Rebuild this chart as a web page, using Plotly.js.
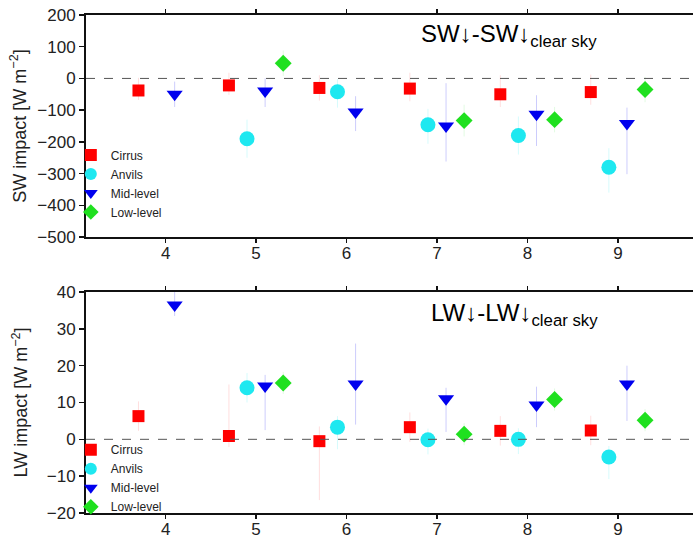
<!DOCTYPE html>
<html>
<head>
<meta charset="utf-8">
<script src="https://cdn.plot.ly/plotly-3.0.1.min.js"></script>
<style>html,body{margin:0;padding:0;background:#fff;}#chart{width:693px;height:538px;}</style>
</head>
<body>
<div id="chart"></div>
<script>
// Category names
const categories = ["Cirrus", "Anvils", "Mid-level", "Low-level"];
// x positions for each category
const xCirrus = [3.7, 4.7, 5.7, 6.7, 7.7, 8.7];
const xAnvils = [4.9, 5.9, 6.9, 7.9, 8.9];
const xMid = [4.1, 5.1, 6.1, 7.1, 8.1, 9.1];
const xLow = [5.3, 7.3, 8.3, 9.3];

// SW impact values
const swCirrus = [-38, -22, -30, -32, -50, -43];
const swAnvils = [-190, -42, -146, -180, -280];
const swMid = [-50, -40, -106, -150, -113, -142];
const swLow = [48, -133, -130, -35];
// SW error bars (plus / minus)
const swCirrusUp = [40, 40, 40, 50, 60, 55];
const swCirrusDn = [30, 30, 40, 40, 40, 40];
const swAnvilsUp = [60, 40, 50, 60, 60];
const swAnvilsDn = [60, 50, 60, 60, 80];
const swMidUp = [40, 40, 50, 135, 60, 50];
const swMidDn = [40, 50, 60, 112, 100, 160];
const swLowUp = [40, 50, 40, 40];
const swLowDn = [40, 50, 40, 40];

// LW impact values
const lwCirrus = [6.3, 0.9, -0.5, 3.3, 2.3, 2.4];
const lwAnvils = [14.0, 3.3, -0.1, 0.0, -4.8];
const lwMid = [36.5, 14.5, 15.0, 11.0, 9.3, 15.0];
const lwLow = [15.3, 1.4, 10.8, 5.2];
// LW error bars (plus / minus)
const lwCirrusUp = [4, 14, 4, 4, 4, 4];
const lwCirrusDn = [4, 3, 16, 4, 4, 4];
const lwAnvilsUp = [4, 3, 3, 3, 3];
const lwAnvilsDn = [4, 6, 4, 4, 6];
const lwMidUp = [6, 3, 11, 3, 5, 5];
const lwMidDn = [3, 12, 11, 9, 6, 10];
const lwLowUp = [3, 3, 3, 3];
const lwLowDn = [3, 3, 3, 3];

// Tick labels
const xTicks = [4, 5, 6, 7, 8, 9];
const swTicks = [200, 100, 0, -100, -200, -300, -400, -500];
const lwTicks = [40, 30, 20, 10, 0, -10, -20];

const colors = ["#ff0000", "#1ee8f0", "#0000ee", "#1fe01f"];
const errColors = ["rgba(255,0,0,0.13)", "rgba(30,232,240,0.18)", "rgba(0,0,238,0.2)", "rgba(31,224,31,0.13)"];
const symbols = ["square", "circle", "triangle-down", "diamond"];
const sizes = [12, 15, 14, 13];

function mk(i, xs, ys, up, dn, xa, ya, leg) {
  return {
    type: "scatter", mode: "markers", name: categories[i],
    x: xs, y: ys, xaxis: xa, yaxis: ya, legend: leg,
    marker: {symbol: symbols[i], size: sizes[i], color: colors[i], line: {width: 0}},
    error_y: {type: "data", symmetric: false, array: up, arrayminus: dn,
              color: errColors[i], thickness: 1, width: 0},
    cliponaxis: true
  };
}

const data = [
  mk(0, xCirrus, swCirrus, swCirrusUp, swCirrusDn, "x", "y", "legend"),
  mk(1, xAnvils, swAnvils, swAnvilsUp, swAnvilsDn, "x", "y", "legend"),
  mk(2, xMid, swMid, swMidUp, swMidDn, "x", "y", "legend"),
  mk(3, xLow, swLow, swLowUp, swLowDn, "x", "y", "legend"),
  mk(0, xCirrus, lwCirrus, lwCirrusUp, lwCirrusDn, "x2", "y2", "legend2"),
  mk(1, xAnvils, lwAnvils, lwAnvilsUp, lwAnvilsDn, "x2", "y2", "legend2"),
  mk(2, xMid, lwMid, lwMidUp, lwMidDn, "x2", "y2", "legend2"),
  mk(3, xLow, lwLow, lwLowUp, lwLowDn, "x2", "y2", "legend2")
];

const FAM = "Liberation Sans, Arial, sans-serif";
const font = {family: FAM, size: 17, color: "#222"};
const xCommon = {
  range: [3.12, 9.83], tickvals: xTicks, ticktext: xTicks.map(String),
  showline: true, linewidth: 2, linecolor: "#111", mirror: "ticks",
  ticks: "outside", ticklen: 4, tickwidth: 1.5, tickcolor: "#111",
  showgrid: false, zeroline: false, tickfont: font, ticklabelstandoff: -4
};
const yCommon = {
  showline: true, linewidth: 2, linecolor: "#111", mirror: false,
  ticks: "outside", ticklen: 5, tickwidth: 1.5, tickcolor: "#111",
  showgrid: false, zeroline: false, tickfont: font
};
const legCommon = {
  bgcolor: "rgba(0,0,0,0)", font: {family: FAM, size: 12, color: "#222"},
  itemsizing: "constant", tracegroupgap: 0, itemwidth: 30, xanchor: "left", yanchor: "top"
};

const layout = {
  width: 693, height: 538,
  margin: {l: 86, r: 0, t: 15, b: 25},
  paper_bgcolor: "#fff", plot_bgcolor: "#fff",
  showlegend: true,
  xaxis: Object.assign({}, xCommon, {domain: [0, 1], anchor: "y"}),
  yaxis: Object.assign({}, yCommon, {domain: [0.5542, 1], anchor: "x", range: [-500, 200],
    tickvals: swTicks, ticktext: swTicks.map(v => String(v).replace("-", "\u2212")),
    title: {text: "SW impact [W m<sup>\u22122</sup>]", font: {family: FAM, size: 18, color: "#222"}, standoff: 6}}),
  xaxis2: Object.assign({}, xCommon, {domain: [0, 1], anchor: "y2"}),
  yaxis2: Object.assign({}, yCommon, {domain: [0, 0.4438], anchor: "x2", range: [-20, 40],
    tickvals: lwTicks, ticktext: lwTicks.map(v => String(v).replace("-", "\u2212")),
    title: {text: "LW impact [W m<sup>\u22122</sup>]", font: {family: FAM, size: 18, color: "#222"}, standoff: 14}}),
  legend: Object.assign({}, legCommon, {x: -0.025, y: 0.748}),
  legend2: Object.assign({}, legCommon, {x: -0.025, y: 0.156}),
  shapes: [
    {type: "line", xref: "x domain", yref: "y", x0: 0, x1: 1, y0: 0, y1: 0,
     line: {color: "#555", width: 1, dash: "dash"}},
    {type: "line", xref: "x2 domain", yref: "y2", x0: 0, x1: 1, y0: 0, y1: 0,
     line: {color: "#555", width: 1, dash: "dash"}}
  ],
  annotations: [
    {xref: "paper", yref: "paper", x: 0.548, y: 0.958, xanchor: "left", yanchor: "middle",
     text: "SW\u2193-SW\u2193<sub>clear sky</sub>", showarrow: false,
     font: {family: FAM, size: 24, color: "#000"}},
    {xref: "paper", yref: "paper", x: 0.565, y: 0.398, xanchor: "left", yanchor: "middle",
     text: "LW\u2193-LW\u2193<sub>clear sky</sub>", showarrow: false,
     font: {family: FAM, size: 24, color: "#000"}}
  ]
};

Plotly.newPlot("chart", data, layout, {displayModeBar: false, staticPlot: true});
</script>
</body>
</html>
